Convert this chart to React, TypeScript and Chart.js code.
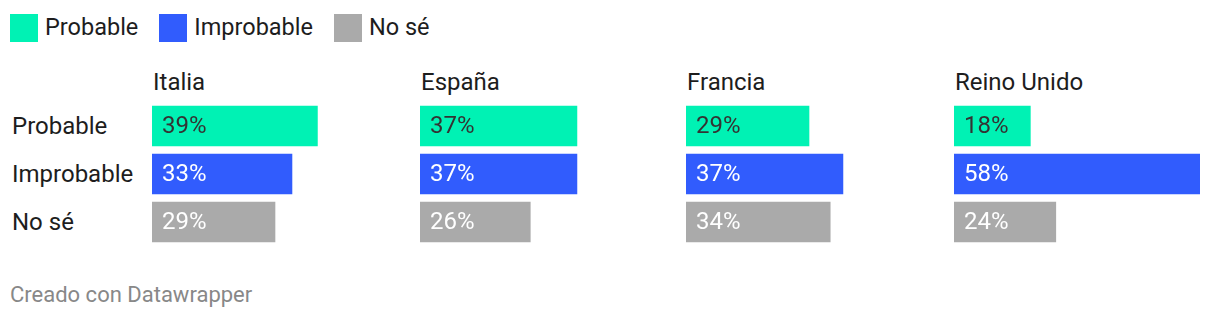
import React, { useEffect, useRef } from "react";
import Chart from "chart.js/auto";

// Survey answers per country
const answers = ["Probable", "Improbable", "No sé"];
const countries = ["Italia", "España", "Francia", "Reino Unido"];
const italia = [39, 33, 29];
const espana = [37, 37, 26];
const francia = [29, 37, 34];
const reinoUnido = [18, 58, 24];
const seriesByCountry = [italia, espana, francia, reinoUnido];

const barColors = ["#00f2b4", "#315cfd", "#aaaaaa"];
const valueTextColors = ["#333333", "#ffffff", "#ffffff"];
const scaleMax = 58;

const FONT = "Roboto, 'Noto Sans', sans-serif";

// Writes the percentage inside each bar, near its start
const valueLabels = {
  id: "valueLabels",
  afterDatasetsDraw(chart: any) {
    const { ctx } = chart;
    const meta = chart.getDatasetMeta(0);
    const data = chart.data.datasets[0].data as number[];
    ctx.save();
    ctx.font = `24px ${FONT}`;
    ctx.textBaseline = "middle";
    ctx.textAlign = "left";
    meta.data.forEach((bar: any, i: number) => {
      const p = bar.getProps(["x", "y", "base"], true);
      ctx.fillStyle = valueTextColors[i];
      ctx.fillText(`${data[i]}%`, p.base + 10, p.y + 1);
    });
    ctx.restore();
  },
};

function Panel({ values }: { values: number[] }) {
  const ref = useRef<HTMLCanvasElement | null>(null);
  useEffect(() => {
    if (!ref.current) return;
    const chart = new Chart(ref.current, {
      type: "bar",
      data: {
        labels: answers,
        datasets: [
          {
            data: values,
            backgroundColor: barColors,
            barThickness: 40,
            borderWidth: 0,
          },
        ],
      },
      options: {
        indexAxis: "y",
        animation: false,
        responsive: false,
        maintainAspectRatio: false,
        layout: { padding: 0 },
        plugins: { legend: { display: false }, tooltip: { enabled: false } },
        scales: {
          x: { display: false, min: 0, max: scaleMax },
          y: { display: false },
        },
      },
      plugins: [valueLabels],
    });
    return () => chart.destroy();
  }, [values]);
  return <canvas ref={ref} width={246} height={144} style={{ display: "block" }} />;
}

const panelLefts = [152, 420, 686, 954];

export default function App() {
  return (
    <div
      style={{
        position: "absolute",
        left: 0,
        top: 0,
        width: 1220,
        height: 320,
        background: "#ffffff",
        fontFamily: FONT,
        color: "#1d1d1d",
      }}
    >
      {/* legend */}
      <div
        style={{
          position: "absolute",
          left: 10,
          top: 14,
          height: 28,
          display: "flex",
          alignItems: "center",
          fontSize: 23.5,
        }}
      >
        {answers.map((a, i) => (
          <div key={a} style={{ display: "flex", alignItems: "center", marginRight: 21 }}>
            <div style={{ width: 28, height: 28, background: barColors[i], marginRight: 7 }} />
            <span style={{ position: "relative", top: -1 }}>{a}</span>
          </div>
        ))}
      </div>

      {/* row labels */}
      {answers.map((a, i) => (
        <div
          key={a}
          style={{
            position: "absolute",
            left: 12,
            top: 106 + i * 48,
            height: 40,
            lineHeight: "40px",
            fontSize: 24,
          }}
        >
          {a}
        </div>
      ))}

      {/* panels */}
      {countries.map((c, i) => (
        <div key={c} style={{ position: "absolute", left: panelLefts[i], top: 66 }}>
          <div style={{ fontSize: 24, height: 32, lineHeight: "32px", marginLeft: 1 }}>{c}</div>
          <div style={{ marginTop: 4 }}>
            <Panel values={seriesByCountry[i]} />
          </div>
        </div>
      ))}

      {/* footer */}
      <div
        style={{
          position: "absolute",
          left: 10,
          top: 282,
          height: 26,
          lineHeight: "26px",
          fontSize: 22,
          color: "#888888",
        }}
      >
        Creado con Datawrapper
      </div>
    </div>
  );
}
